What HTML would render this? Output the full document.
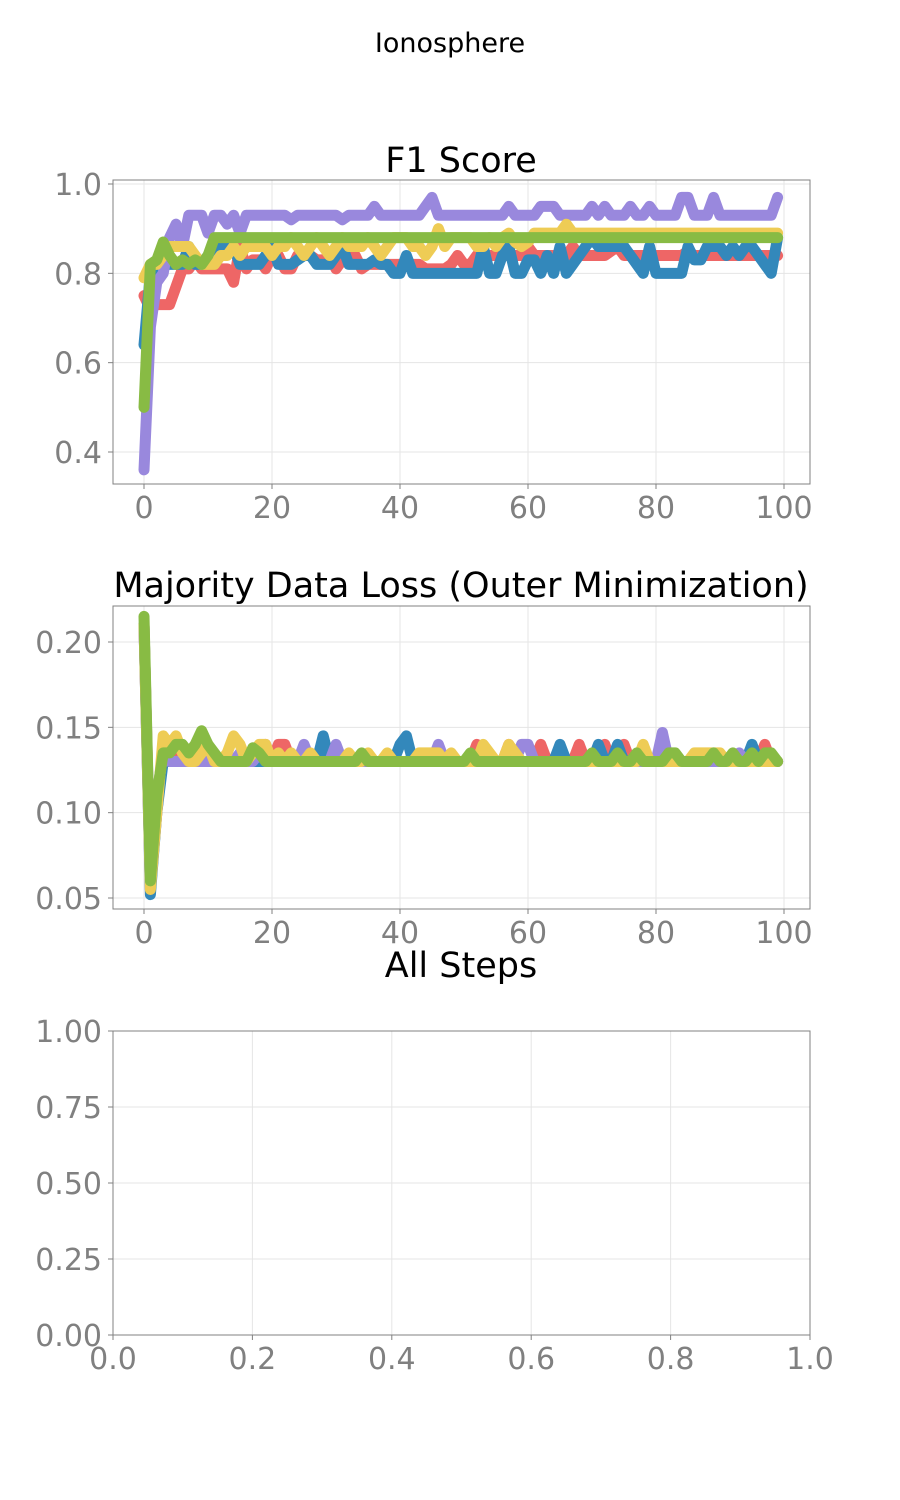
<!DOCTYPE html>
<html><head><meta charset="utf-8"><style>
body{margin:0;background:#fff}
svg{display:block;font-family:"DejaVu Sans","Liberation Sans",sans-serif}
.tk{fill:#808080;font-size:30px}
</style></head><body>
<svg id="s" width="900" height="1500">
<text x="450" y="52" text-anchor="middle" font-size="27">Ionosphere</text>
</svg>
<script>
const steps=Array.from({length:100},(_,i)=>i);
const f1Red=[.75,.72,.73,.73,.73,.77,.81,.81,.83,.81,.81,.81,.81,.81,.78,.86,.81,.83,.83,.81,.84,.84,.81,.81,.84,.84,.84,.83,.83,.84,.81,.83,.84,.84,.81,.82,.82,.82,.82,.82,.82,.82,.82,.82,.81,.81,.81,.81,.82,.84,.82,.82,.84,.84,.84,.84,.84,.84,.84,.84,.86,.84,.84,.84,.84,.84,.84,.86,.84,.84,.84,.84,.84,.85,.86,.84,.84,.84,.84,.84,.84,.84,.84,.84,.84,.85,.84,.84,.84,.84,.84,.84,.84,.84,.84,.84,.84,.84,.84,.84];
const f1Blue=[.64,.80,.80,.83,.82,.82,.82,.86,.82,.82,.84,.86,.86,.86,.86,.82,.82,.82,.82,.84,.86,.82,.82,.82,.83,.84,.84,.82,.82,.82,.84,.86,.82,.82,.82,.82,.83,.82,.82,.80,.80,.84,.80,.80,.80,.80,.80,.80,.80,.80,.80,.80,.80,.86,.80,.80,.84,.86,.80,.80,.83,.83,.80,.84,.80,.86,.80,.82,.84,.86,.88,.86,.86,.86,.86,.86,.84,.82,.80,.86,.80,.80,.80,.80,.80,.86,.83,.83,.86,.86,.86,.84,.86,.84,.86,.86,.84,.82,.80,.88];
const f1Purple=[.36,.68,.78,.80,.88,.91,.86,.93,.93,.93,.89,.93,.93,.91,.93,.89,.93,.93,.93,.93,.93,.93,.93,.92,.93,.93,.93,.93,.93,.93,.93,.92,.93,.93,.93,.93,.95,.93,.93,.93,.93,.93,.93,.93,.95,.97,.93,.93,.93,.93,.93,.93,.93,.93,.93,.93,.93,.95,.93,.93,.93,.93,.95,.95,.95,.93,.93,.93,.93,.93,.95,.93,.95,.93,.93,.93,.95,.93,.93,.95,.93,.93,.93,.93,.97,.97,.93,.93,.93,.97,.93,.93,.93,.93,.93,.93,.93,.93,.93,.97];
const f1Yellow=[.79,.82,.82,.84,.86,.86,.86,.86,.84,.82,.82,.82,.84,.84,.86,.84,.86,.86,.86,.86,.84,.86,.86,.88,.86,.84,.86,.88,.86,.84,.86,.88,.86,.86,.86,.88,.86,.84,.86,.88,.88,.88,.86,.86,.84,.86,.90,.86,.88,.88,.88,.88,.86,.86,.88,.86,.88,.89,.87,.86,.87,.89,.89,.89,.89,.89,.91,.89,.89,.89,.89,.89,.89,.89,.89,.89,.89,.89,.89,.89,.89,.89,.89,.89,.89,.89,.89,.89,.89,.89,.89,.89,.89,.89,.89,.89,.89,.89,.89,.89];
const f1Green=[.50,.82,.83,.87,.84,.82,.83,.82,.83,.82,.84,.88,.88,.88,.88,.88,.88,.88,.88,.88,.88,.88,.88,.88,.88,.88,.88,.88,.88,.88,.88,.88,.88,.88,.88,.88,.88,.88,.88,.88,.88,.88,.88,.88,.88,.88,.88,.88,.88,.88,.88,.88,.88,.88,.88,.88,.88,.88,.88,.88,.88,.88,.88,.88,.88,.88,.88,.88,.88,.88,.88,.88,.88,.88,.88,.88,.88,.88,.88,.88,.88,.88,.88,.88,.88,.88,.88,.88,.88,.88,.88,.88,.88,.88,.88,.88,.88,.88,.88,.88];
const lossRed=[.21,.055,.10,.135,.135,.13,.13,.13,.13,.13,.13,.13,.13,.13,.13,.13,.13,.13,.13,.14,.13,.14,.14,.13,.13,.13,.13,.13,.13,.13,.13,.13,.13,.13,.13,.13,.13,.13,.13,.13,.13,.13,.13,.13,.13,.13,.13,.13,.13,.13,.13,.13,.14,.13,.13,.13,.13,.14,.13,.13,.13,.13,.14,.13,.13,.13,.13,.13,.14,.13,.13,.13,.14,.13,.13,.14,.13,.13,.13,.13,.13,.13,.13,.13,.13,.13,.13,.13,.13,.13,.13,.13,.13,.13,.13,.13,.13,.14,.13,.13];
const lossBlue=[.21,.052,.10,.13,.13,.13,.13,.13,.13,.13,.13,.13,.13,.13,.13,.13,.13,.13,.13,.13,.13,.13,.13,.13,.13,.13,.13,.13,.145,.13,.13,.13,.13,.13,.13,.13,.13,.13,.13,.13,.14,.145,.13,.13,.13,.13,.13,.13,.13,.13,.13,.13,.13,.13,.13,.13,.13,.13,.13,.13,.13,.13,.13,.13,.13,.14,.13,.13,.13,.13,.13,.14,.13,.13,.14,.13,.13,.13,.13,.13,.13,.13,.13,.13,.13,.13,.13,.13,.13,.13,.13,.13,.13,.13,.13,.14,.13,.13,.13,.13];
const lossPurple=[.21,.06,.11,.135,.13,.13,.13,.13,.13,.13,.13,.13,.13,.13,.13,.135,.13,.13,.135,.13,.13,.13,.13,.13,.13,.14,.13,.13,.13,.13,.14,.13,.13,.13,.13,.13,.13,.13,.13,.13,.13,.13,.13,.13,.13,.13,.14,.13,.13,.13,.13,.13,.13,.13,.13,.13,.13,.13,.13,.14,.14,.13,.13,.13,.13,.13,.13,.13,.13,.13,.13,.13,.13,.13,.13,.13,.13,.13,.13,.13,.13,.147,.13,.13,.13,.13,.13,.13,.13,.13,.13,.13,.13,.135,.13,.13,.13,.13,.13,.13];
const lossYellow=[.21,.055,.10,.145,.14,.145,.135,.13,.13,.135,.14,.13,.13,.135,.145,.14,.13,.135,.14,.14,.13,.135,.13,.135,.13,.13,.135,.13,.13,.13,.13,.13,.135,.13,.13,.135,.13,.13,.135,.13,.13,.13,.13,.135,.135,.135,.135,.13,.135,.13,.13,.13,.13,.14,.135,.13,.13,.14,.135,.13,.13,.13,.13,.13,.13,.13,.13,.13,.13,.13,.13,.13,.13,.13,.13,.13,.13,.13,.14,.13,.13,.13,.13,.13,.13,.13,.135,.135,.135,.135,.135,.13,.13,.13,.13,.13,.13,.13,.13,.13];
const lossGreen=[.215,.06,.11,.135,.135,.14,.14,.135,.14,.148,.14,.135,.13,.13,.13,.13,.13,.138,.135,.13,.13,.13,.13,.13,.13,.13,.13,.13,.13,.13,.13,.13,.13,.13,.135,.13,.13,.13,.13,.13,.13,.13,.13,.13,.13,.13,.13,.13,.13,.13,.13,.135,.13,.13,.13,.13,.13,.13,.13,.13,.13,.13,.13,.13,.13,.13,.13,.13,.13,.13,.135,.13,.13,.13,.135,.13,.13,.135,.13,.13,.13,.13,.135,.135,.13,.13,.13,.13,.13,.135,.13,.13,.135,.13,.13,.135,.13,.135,.135,.13];
const xTicks=[0,20,40,60,80,100];
const f1Ticks=[0.4,0.6,0.8,1.0];
const lossTicks=[0.05,0.10,0.15,0.20];
const emptyTicks=[0,0.25,0.5,0.75,1.0];
const emptyXTicks=[0,0.2,0.4,0.6,0.8,1.0];
const colors=["#ee6666","#3388bb","#9988dd","#eecc55","#88bb44"];
const names=["red","blue","purple","yellow","green"];

const NS="http://www.w3.org/2000/svg";
const svg=document.getElementById('s');
function mk(tag,attrs,parent){const e=document.createElementNS(NS,tag);for(const k in attrs)e.setAttribute(k,attrs[k]);(parent||svg).appendChild(e);return e;}

function panel2(key,yTop,yBot,vTop,vBot,xt,yt,xfmt,yfmt,title,titleY,series,frameTop,frameBot,xmin,xmax,xpx0,xpx1){
  const L=113,R=810;
  const sx=v=>xpx0+(v-xmin)/(xmax-xmin)*(xpx1-xpx0);
  const sy=v=>yTop+(vTop-v)/(vTop-vBot)*(yBot-yTop);
  const g=mk('g',{});
  
  
  for(const t of xt){const l=mk('line',{x1:sx(t),x2:sx(t),y1:frameTop,y2:frameBot,stroke:'#e5e5e5'},g);
    
    const tx=mk('text',{x:sx(t),y:frameBot+34,'text-anchor':'middle',class:'tk'},g);tx.textContent=xfmt(t);
    
    mk('line',{x1:sx(t),x2:sx(t),y1:frameBot,y2:frameBot+5,stroke:'#808080'},g);}
  for(const t of yt){const y=sy(t);const l=mk('line',{x1:L,x2:R,y1:y,y2:y,stroke:'#e5e5e5'},g);
    
    const tx=mk('text',{x:102,y:y+11,'text-anchor':'end',class:'tk'},g);tx.textContent=yfmt(t);
    
    mk('line',{x1:L-5,x2:L,y1:y,y2:y,stroke:'#808080'},g);}
  series.forEach((d,i)=>{
    const p=mk('polyline',{points:d.map((v,j)=>sx(steps[j])+','+sy(v)).join(' '),fill:'none',stroke:colors[i],'stroke-width':11,'stroke-linejoin':'round','stroke-linecap':'round'},g);
    
    
  });
  const fr=mk('rect',{x:L,y:frameTop,width:R-L,height:frameBot-frameTop,fill:'none',stroke:'#808080'},g);
  
  const tt=mk('text',{x:461,y:titleY,'text-anchor':'middle','font-size':35},g);tt.textContent=title;
  
}
panel2('f1',184,452,1.0,0.4,xTicks,f1Ticks,v=>v,v=>v.toFixed(1),'F1 Score',172,[f1Red,f1Blue,f1Purple,f1Yellow,f1Green],180,484,0,100,144,784);
panel2('loss',642,898,0.20,0.05,xTicks,lossTicks,v=>v,v=>v.toFixed(2),'Majority Data Loss (Outer Minimization)',597,[lossRed,lossBlue,lossPurple,lossYellow,lossGreen],606,909,0,100,144,784);
panel2('empty',1031,1335,1.0,0.0,emptyXTicks,emptyTicks,v=>v.toFixed(1),v=>v.toFixed(2),'All Steps',977,[],1031,1335,0,1,113,810);
</script>
</body></html>
